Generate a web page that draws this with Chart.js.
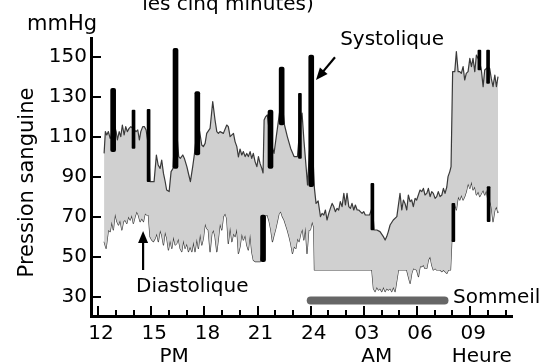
<!DOCTYPE html>
<html>
<head>
<meta charset="utf-8">
<script src="https://cdn.jsdelivr.net/npm/chart.js@4.4.1/dist/chart.umd.min.js"></script>
<style>
  html, body { margin: 0; padding: 0; background: #fff; }
  #wrap { width: 551px; height: 363px; }
</style>
</head>
<body>
<div id="wrap"><canvas id="bpChart"></canvas></div>
<script>
// Heures en continu : 12 = midi, 24 = minuit, 27 = 03 h, 33 = 09 h du lendemain
const hourTicks = [12, 15, 18, 21, 24, 27, 30, 33];
const hourLabels = ['12', '15', '18', '21', '24', '03', '06', '09'];
const mmHgTicks = [30, 50, 70, 90, 110, 130, 150];

// Pression systolique [heure, mmHg]
const systolic = [
  [12.34,101.8],[12.41,112.7],[12.49,111],[12.58,112.7],[12.68,109.3],[12.73,110],[12.85,118],[13.02,112.7],
  [13.09,108.5],[13.19,112.7],[13.28,110.2],[13.37,116],[13.47,111],[13.56,115.2],[13.65,112.7],[13.75,114.3],
  [13.85,115.2],[14.00,114],[14.14,112.7],[14.24,113.5],[14.33,108.5],[14.41,112.7],[14.52,115.2],[14.61,115.2],
  [14.71,113.5],[14.85,105],[14.93,87.7],[15.16,87.7],[15.29,101],[15.39,96],[15.50,94.3],[15.59,98.5],
  [15.69,91.8],[15.78,88],[15.87,83.5],[16.01,82.7],[16.12,92.7],[16.23,94.3],[16.37,120],[16.55,100.2],
  [16.64,99.3],[16.78,101],[16.87,99.3],[17.01,95.2],[17.12,91],[17.21,87.7],[17.34,95.2],[17.43,101],
  [17.60,115],[17.73,112.7],[17.85,106],[17.94,105.2],[18.04,106.8],[18.13,111.8],[18.32,114.3],[18.47,127.7],
  [18.60,118.5],[18.70,112.7],[18.79,111.8],[18.88,112.7],[19.07,111.8],[19.26,116],[19.35,115.2],[19.45,110.2],
  [19.64,111.8],[19.73,107.7],[19.83,105.2],[19.92,100],[20.01,104],[20.11,101],[20.20,102.7],[20.30,100.2],
  [20.39,101.8],[20.48,100.2],[20.58,102.7],[20.67,99.3],[20.76,101.8],[20.86,97.7],[20.96,95.2],[21.05,100.2],
  [21.14,96.8],[21.24,94.3],[21.31,92],[21.37,118.5],[21.46,120.2],[21.55,121],[21.73,108],[21.93,101.8],
  [22.03,108.5],[22.12,114.3],[22.36,130],[22.52,116],[22.68,110.2],[22.87,104.3],[23.06,100.2],[23.25,100.2],
  [23.39,115],[23.51,122],[23.62,108],[23.74,95],[23.82,86],[24.03,118],[24.21,84.3],[24.30,76.8],
  [24.42,78],[24.55,70.2],[24.64,71.8],[24.74,71],[24.83,73.5],[24.92,68.5],[25.02,71.8],[25.11,74.3],
  [25.21,76.8],[25.30,75.2],[25.39,72.7],[25.49,74.3],[25.58,73.5],[25.67,77.7],[25.77,75.2],[25.87,81.8],
  [25.96,76],[26.05,81.8],[26.15,75.2],[26.24,74.3],[26.33,76.8],[26.43,73.5],[26.52,76],[26.62,73.5],
  [26.71,73.5],[26.80,72.7],[26.90,71.8],[26.99,72.7],[27.08,71],[27.18,71],[27.32,71],[27.48,75],
  [27.58,63.5],[27.73,63.5],[27.91,62.7],[28.10,60.2],[28.20,58.5],[28.29,60.2],[28.38,62.7],[28.48,66],
  [28.66,68.5],[28.86,70.2],[29.04,81.8],[29.14,73.5],[29.23,78.5],[29.32,76.8],[29.42,73.5],[29.51,81],
  [29.61,77.7],[29.70,78.5],[29.79,75.2],[29.89,79.3],[29.98,78.5],[30.17,83.5],[30.27,82.7],[30.36,84.3],
  [30.45,81],[30.55,81.8],[30.64,84.3],[30.74,80.2],[30.83,82.7],[30.92,81.8],[31.02,79.3],[31.11,80.2],
  [31.20,82.7],[31.30,80.2],[31.40,81],[31.49,84.3],[31.58,81.8],[31.68,85],[31.75,90.2],[31.85,92.7],
  [31.92,95.2],[32.01,142.7],[32.13,142.7],[32.22,152.7],[32.32,142.7],[32.41,142.7],[32.50,141.8],[32.60,145.2],
  [32.69,138.5],[32.78,141.8],[32.88,142.7],[32.98,149.3],[33.07,145.2],[33.16,149.3],[33.26,142.7],[33.35,151],
  [33.52,148],[33.63,143.5],[33.73,135.2],[33.82,143.5],[34.01,145],[34.10,144.3],[34.19,139.3],[34.29,135.2],
  [34.39,141],[34.48,135.2],[34.57,140.2]
];

// Pression diastolique [heure, mmHg]
const diastolic = [
  [12.34,57.7],[12.45,54.3],[12.58,63.5],[12.68,62.7],[12.77,67.7],[12.86,63.5],[12.96,71.8],[13.06,67.7],
  [13.15,66],[13.24,68.5],[13.34,63.5],[13.43,67.7],[13.52,68.5],[13.62,66.8],[13.71,70.2],[13.81,68.5],
  [13.90,71],[13.99,66.8],[14.09,70.2],[14.18,72.7],[14.27,71],[14.37,67.7],[14.47,69.3],[14.56,67.7],
  [14.65,71.8],[14.75,71],[14.84,71],[14.93,60.2],[15.03,58.5],[15.12,57.7],[15.22,59.3],[15.31,61.8],
  [15.40,57.7],[15.50,63.5],[15.59,61],[15.69,56],[15.78,62.7],[15.88,59.3],[15.97,53.5],[16.06,58.5],
  [16.16,54.3],[16.25,60.2],[16.35,56],[16.44,56.8],[16.53,59.3],[16.63,54.3],[16.72,52.7],[16.81,58.5],
  [16.91,54.3],[17.01,56.8],[17.10,52.7],[17.19,55.2],[17.29,52.7],[17.38,57.7],[17.47,52.7],[17.57,59.3],
  [17.66,54.3],[17.76,61.8],[17.85,56],[17.94,59.3],[18.04,66.8],[18.13,64.3],[18.22,63.5],[18.32,52.7],
  [18.42,61.8],[18.51,63.5],[18.60,60.2],[18.70,52.7],[18.79,59.3],[18.88,66.8],[18.98,63.5],[19.07,70.2],
  [19.17,71.8],[19.26,69.3],[19.35,56.8],[19.45,65.2],[19.55,57.7],[19.64,61.8],[19.73,60.2],[19.83,64.3],
  [19.92,51.8],[20.01,55.2],[20.11,61.8],[20.20,58.5],[20.30,61],[20.39,56],[20.48,53.5],[20.58,61.8],
  [20.67,52.7],[20.76,48.5],[20.86,47.7],[20.96,47.7],[21.05,47.7],[21.14,47.7],[21.31,60],[21.46,71],
  [21.55,71],[21.65,68],[21.75,63.5],[21.84,57.7],[21.93,61],[22.03,64.3],[22.12,68],[22.21,71.8],
  [22.31,72.7],[22.40,70.2],[22.50,68.5],[22.59,66],[22.68,63.5],[22.78,60.2],[22.87,56.8],[22.97,51.8],
  [23.06,55.2],[23.16,54.3],[23.25,59.3],[23.34,57.7],[23.44,61.8],[23.53,64],[23.61,58.5],[23.70,65.2],
  [23.79,51.8],[23.89,63.5],[23.98,63.5],[24.08,67.7],[24.17,65],[24.21,43.5],[27.45,43.5],[27.54,34.3],
  [27.63,32.7],[27.73,35],[27.82,33.5],[27.91,34.3],[28.01,32.7],[28.10,35],[28.20,32.7],[28.29,34.3],
  [28.38,33.5],[28.48,34.3],[28.57,32.7],[28.66,35],[28.76,32.7],[28.95,43.5],[29.42,43.5],[29.51,40.2],
  [29.61,36.8],[29.70,41.8],[29.79,44.3],[29.98,43.5],[30.08,40.2],[30.17,45.2],[30.27,45.2],[30.36,46],
  [30.45,44.3],[30.55,44.3],[30.64,48.5],[30.74,50.2],[30.83,46],[30.92,43.5],[31.02,44.3],[31.11,43.5],
  [31.20,43.5],[31.30,43.5],[31.40,42.7],[31.49,43.5],[31.58,42.7],[31.68,41.8],[31.77,43.5],[31.89,43.5],
  [31.96,57.7],[32.05,67],[32.13,76.8],[32.22,73.5],[32.32,80.2],[32.41,78.5],[32.50,81],[32.60,78.5],
  [32.69,80.2],[32.78,82.7],[32.88,86.8],[32.98,84.3],[33.07,87.7],[33.16,83.5],[33.26,85.2],[33.35,81],
  [33.45,82.7],[33.54,80.2],[33.63,81.8],[33.73,83.5],[33.82,81],[33.91,83.5],[34.04,76],[34.10,78.5],
  [34.19,75.2],[34.29,67.7],[34.39,73.5],[34.48,75.2],[34.57,72]
];

// Variations brusques (traits noirs) [heure, min, max]
const spikesHeavy = [
  [12.85,102.7,134.3],[16.37,94.3,154.3],[17.60,101,132.7],[21.31,47.7,71],
  [21.73,94.3,123.5],[22.36,116,145],[24.03,85.2,151]
];
const spikesLight = [
  [14.00,104.3,123.5],[14.85,87.7,123.8],[23.39,99.3,131.8],[27.48,63.5,86.8],
  [32.05,57.7,76.8],[33.52,143.5,153.5],[34.01,136.8,153.5],[34.04,67.7,85.2]
];

// Période de sommeil [début, fin] et niveau du trait
const sleep = [24.0, 31.55];
const sleepLevel = 28.2;

const FONT = '"DejaVu Sans"';

function toPoints(arr) {
  return arr.map(p => ({ x: p[0], y: p[1] }));
}
function toBars(arr) {
  return arr.map(p => ({ x: p[0], y: [p[1], p[2]] }));
}

function arrow(ctx, x1, y1, x2, y2) {
  const ang = Math.atan2(y2 - y1, x2 - x1);
  const hl = 12, hw = 5;
  ctx.beginPath();
  ctx.moveTo(x1, y1);
  ctx.lineTo(x2 - Math.cos(ang) * hl * 0.8, y2 - Math.sin(ang) * hl * 0.8);
  ctx.stroke();
  ctx.beginPath();
  ctx.moveTo(x2, y2);
  ctx.lineTo(x2 - Math.cos(ang) * hl - Math.sin(ang) * hw, y2 - Math.sin(ang) * hl + Math.cos(ang) * hw);
  ctx.lineTo(x2 - Math.cos(ang) * hl + Math.sin(ang) * hw, y2 - Math.sin(ang) * hl - Math.cos(ang) * hw);
  ctx.closePath();
  ctx.fill();
}

// Graduations vers l'intérieur + textes et flèches
const extras = {
  id: 'extras',
  afterDraw(chart) {
    const { ctx, chartArea: a, scales: { x, y } } = chart;
    const px = v => x.getPixelForValue(v);
    const py = v => y.getPixelForValue(v);
    ctx.save();
    ctx.strokeStyle = '#000';
    ctx.fillStyle = '#000';
    ctx.lineWidth = 2;
    ctx.beginPath();
    x.ticks.forEach(t => {
      const p = Math.round(px(t.value));
      const len = hourTicks.includes(t.value) ? 10 : 6;
      ctx.moveTo(p, a.bottom);
      ctx.lineTo(p, a.bottom - len);
    });
    y.ticks.forEach(t => {
      const p = Math.round(py(t.value));
      const len = mmHgTicks.includes(t.value) ? 10 : 6;
      ctx.moveTo(a.left, p);
      ctx.lineTo(a.left + len, p);
    });
    ctx.stroke();

    ctx.font = '20px ' + FONT;
    ctx.textBaseline = 'alphabetic';
    ctx.textAlign = 'center';
    ctx.fillText('les cinq minutes)', 228, 9.5);
    ctx.textAlign = 'left';
    ctx.font = '21px ' + FONT;
    ctx.fillText('mmHg', 27, 29.5);
    ctx.font = '20px ' + FONT;

    ctx.fillText('Systolique', px(25.66), py(156.25));
    ctx.fillText('Diastolique', px(14.14), py(32.65));
    ctx.fillText('Sommeil', px(32.03), py(27.15));

    ctx.textAlign = 'center';
    const sub = a.bottom + 46;
    ctx.fillText('PM', px(16.29), sub);
    ctx.fillText('AM', px(27.73), sub);
    ctx.fillText('Heure', px(33.65), sub);

    ctx.lineWidth = 2.2;
    arrow(ctx, px(25.37), py(149.85), px(24.30), py(138.5));
    arrow(ctx, px(14.54), py(43.5), px(14.54), py(63));

    ctx.save();
    ctx.translate(33, 182.5);
    ctx.rotate(-Math.PI / 2);
    ctx.font = '21px ' + FONT;
    ctx.textAlign = 'center';
    ctx.fillText('Pression sanguine', 0, 0);
    ctx.restore();

    ctx.restore();
  }
};

Chart.defaults.font.family = FONT;
Chart.defaults.color = '#000';

new Chart(document.getElementById('bpChart'), {
  type: 'line',
  data: {
    datasets: [
      {
        label: 'Systolique',
        data: toPoints(systolic),
        borderColor: '#3a3a3a',
        borderWidth: 1.2,
        borderJoinStyle: 'round',
        backgroundColor: '#d0d0d0',
        fill: '+1',
        pointRadius: 0,
        tension: 0,
        order: 2
      },
      {
        label: 'Diastolique',
        data: toPoints(diastolic),
        borderColor: '#3a3a3a',
        borderWidth: 1.2,
        borderJoinStyle: 'round',
        fill: false,
        pointRadius: 0,
        tension: 0,
        order: 2
      },
      {
        type: 'bar',
        label: 'Variations',
        data: toBars(spikesHeavy),
        backgroundColor: '#000',
        barThickness: 5,
        grouped: false,
        borderSkipped: false,
        borderRadius: 2,
        order: 0
      },
      {
        type: 'bar',
        label: 'Variations2',
        data: toBars(spikesLight),
        backgroundColor: '#000',
        barThickness: 3,
        grouped: false,
        borderSkipped: false,
        borderRadius: 1,
        order: 0
      },
      {
        label: 'Sommeil',
        data: sleep.map(h => ({ x: h, y: sleepLevel })),
        borderColor: '#666',
        borderWidth: 8,
        borderCapStyle: 'round',
        pointRadius: 0,
        fill: false,
        order: 1
      }
    ]
  },
  options: {
    responsive: true,
    maintainAspectRatio: false,
    animation: false,
    devicePixelRatio: 1,
    events: [],
    layout: { padding: { top: 38, right: 39, bottom: 0, left: 0 } },
    plugins: {
      legend: { display: false },
      tooltip: { enabled: false },
      title: { display: false }
    },
    scales: {
      x: {
        type: 'linear',
        min: 11.6,
        max: 35.36,
        offset: false,
        afterFit: s => { s.height = 47; },
        grid: { display: false, drawTicks: false },
        border: { display: true, color: '#000', width: 3 },
        ticks: {
          stepSize: 1,
          maxTicksLimit: 100,
          includeBounds: false,
          autoSkip: false,
          maxRotation: 0,
          padding: 6,
          labelOffset: 3,
          font: { size: 20 },
          callback: v => {
            const i = hourTicks.indexOf(v);
            return i >= 0 ? hourLabels[i] : '';
          }
        }
      },
      y: {
        type: 'linear',
        min: 20.5,
        max: 159.5,
        afterFit: s => { s.width = 91; },
        grid: { display: false, drawTicks: false },
        border: { display: true, color: '#000', width: 3 },
        ticks: {
          stepSize: 10,
          maxTicksLimit: 100,
          includeBounds: false,
          padding: 4,
          font: { size: 20 },
          callback: v => mmHgTicks.includes(v) ? String(v) : ''
        }
      }
    }
  },
  plugins: [extras]
});
</script>
</body>
</html>
